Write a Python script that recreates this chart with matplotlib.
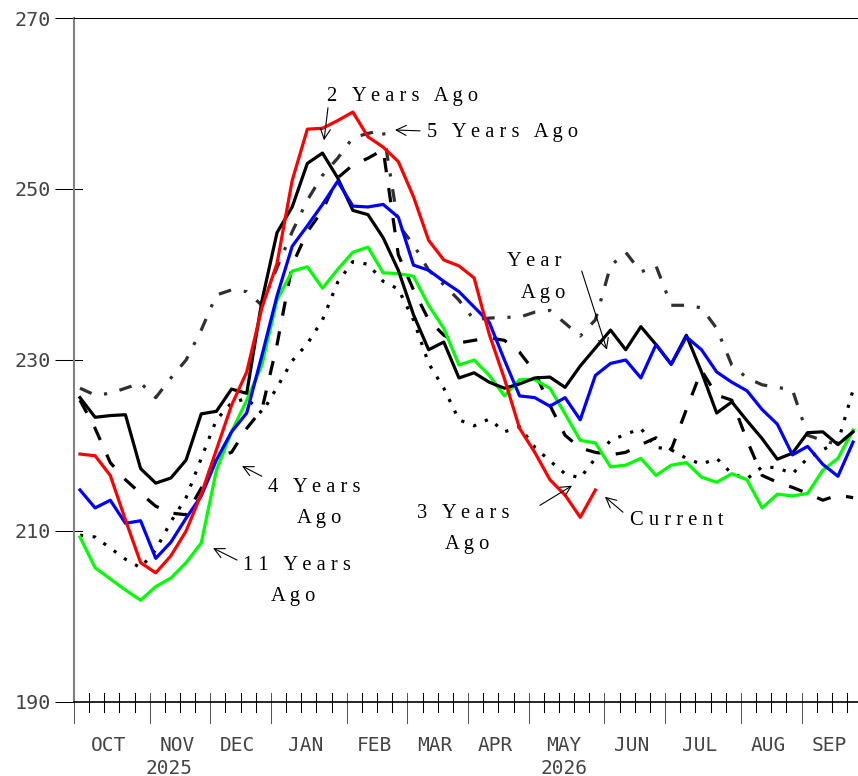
import numpy as np
import matplotlib
matplotlib.use('Agg')
import matplotlib.pyplot as plt

# month layout of the marketing year (weeks per month)
months = ['OCT', 'NOV', 'DEC', 'JAN', 'FEB', 'MAR', 'APR', 'MAY', 'JUN', 'JUL', 'AUG', 'SEP']
month_weeks = [5, 4, 4, 5, 4, 4, 4, 5, 4, 5, 4, 4]
years = ['2025', '2026']
year_pos = [6.3, 32.3]
yticks = [190, 210, 230, 250, 270]

# weekly values
current = [219.0, 218.8, 216.5, 211.3, 206.3, 205.1, 207.1, 210.0, 214.3, 219.5,
           224.7, 228.6, 236.1, 241.3, 251.0, 257.0, 257.1, 258.0, 259.0, 256.1,
           254.9, 253.2, 249.1, 244.0, 241.7, 241.0, 239.6, 233.0, 227.8, 222.0,
           219.2, 216.0, 214.2, 211.6, 214.8]
year_ago = [214.8, 212.7, 213.6, 210.9, 211.2, 206.8, 208.7, 211.5, 214.1, 218.3,
            221.6, 223.8, 230.5, 237.5, 243.3, 245.7, 248.2, 250.9, 248.0, 247.9,
            248.2, 246.7, 241.1, 240.5, 239.2, 238.0, 236.2, 234.4, 230.0, 225.8,
            225.6, 224.6, 225.6, 223.0, 228.2, 229.6, 230.0, 227.9, 231.8, 229.5,
            232.7, 231.2, 228.6, 227.4, 226.4, 224.2, 222.5, 218.9, 219.9, 217.8,
            216.4, 220.4]
two_years = [225.6, 223.3, 223.5, 223.6, 217.3, 215.6, 216.2, 218.3, 223.7, 224.0,
             226.6, 226.1, 236.9, 244.9, 247.9, 253.0, 254.2, 251.3, 247.5, 247.0,
             244.3, 240.5, 235.3, 231.2, 232.1, 227.9, 228.5, 227.4, 226.7, 227.2,
             227.9, 228.0, 226.8, 229.3, 231.4, 233.5, 231.2, 233.9, 231.8, 229.5,
             232.9, 228.6, 223.8, 225.1, 222.9, 220.8, 218.4, 219.1, 221.5, 221.6,
             220.1, 221.6]
three_years = [209.5, 209.3, 208.0, 206.7, 205.7, 207.8, 211.1, 213.9, 218.5, 223.0,
               225.0, 225.5, 223.8, 226.8, 229.9, 231.9, 234.7, 239.1, 241.5, 241.2,
               239.2, 238.3, 234.7, 229.6, 226.7, 223.0, 222.3, 223.1, 221.6, 222.2,
               219.8, 218.2, 216.7, 216.2, 218.5, 220.6, 221.3, 222.0, 219.8, 219.5,
               218.5, 217.8, 218.5, 216.7, 216.1, 217.5, 217.4, 216.7, 218.5, 219.5,
               220.4, 226.5]
four_years = [225.3, 222.0, 218.0, 216.0, 214.4, 212.9, 212.1, 211.9, 215.0, 218.7,
              219.2, 222.0, 224.2, 231.8, 241.1, 245.0, 247.5, 251.3, 252.8, 253.6,
              254.6, 242.3, 238.2, 234.7, 232.9, 232.0, 232.3, 232.6, 232.3, 230.9,
              228.6, 224.7, 221.2, 219.7, 219.2, 218.9, 219.2, 220.1, 220.9, 219.5,
              224.2, 228.8, 225.9, 225.3, 220.6, 216.5, 215.7, 215.1, 214.4, 213.6,
              214.2, 213.9]
five_years = [226.7, 225.9, 226.1, 226.7, 227.3, 225.6, 227.9, 230.0, 233.5, 237.6,
              238.2, 238.0, 236.4, 240.8, 245.0, 248.7, 251.6, 253.6, 256.0, 256.5,
              256.9, 245.8, 243.5, 240.5, 238.8, 237.0, 234.7, 234.9, 235.0, 235.0,
              235.6, 235.8, 234.3, 232.8, 234.7, 241.0, 242.6, 240.3, 241.0, 236.4,
              236.4, 236.1, 233.7, 229.4, 227.9, 227.1, 226.8, 226.5, 221.2, 220.6,
              220.1, 221.6]
eleven_years = [209.3, 205.7, 204.4, 203.1, 201.9, 203.5, 204.5, 206.3, 208.6, 217.1,
                221.6, 225.3, 229.4, 237.0, 240.4, 240.9, 238.4, 240.6, 242.6, 243.2,
                240.2, 240.1, 239.8, 236.4, 233.7, 229.4, 230.0, 228.2, 225.8, 227.7,
                227.7, 226.7, 223.7, 220.6, 220.3, 217.5, 217.7, 218.5, 216.5, 217.7,
                218.0, 216.3, 215.7, 216.7, 216.0, 212.7, 214.3, 214.1, 214.4, 217.1,
                218.5, 221.8]

n_weeks = sum(month_weeks)
wk = np.arange(52) + 0.4

fig = plt.figure(figsize=(8.58, 7.76), dpi=100)
ax = fig.add_axes([73.9 / 858, 74 / 776, 788.3 / 858, 684 / 776])
ax.set_xlim(0, n_weeks)
ax.set_ylim(190, 270)

lw = 2.3
ax.plot(wk[:len(three_years)], three_years, color='black', lw=lw, ls=(0, (1, 3)))
ax.plot(wk[:len(four_years)], four_years, color='black', lw=lw, ls=(0, (4.5, 5)))
ax.plot(wk[:len(five_years)], five_years, color='#303030', lw=lw, ls=(0, (4, 4, 1, 4)))
ax.plot(wk[:len(eleven_years)], eleven_years, color='#00ff00', lw=lw)
ax.plot(wk[:len(two_years)], two_years, color='black', lw=lw)
ax.plot(wk[:len(year_ago)], year_ago, color='#0000ff', lw=lw)
ax.plot(wk[:len(current)], current, color='#ff0000', lw=lw)

# axes frame
ax.spines['right'].set_visible(False)
ax.spines['left'].set_color('#808080')
ax.spines['left'].set_linewidth(1.5)
ax.spines['top'].set_linewidth(0.75)
ax.spines['bottom'].set_linewidth(1.2)

ax.set_yticks(yticks)
ax.set_yticklabels([str(v) for v in yticks])
ax.tick_params(axis='y', direction='out', length=13.7, width=0.75, pad=2.9,
               labelsize=14.5, labelcolor='#444444')
for lbl in ax.get_yticklabels():
    lbl.set_fontfamily('DejaVu Sans Mono')
ytr = ax.get_yaxis_transform()
for v in yticks[1:-1]:
    ax.plot([0, 8 / 788.3], [v, v], transform=ytr, color='black', lw=0.75)

# weekly ticks, longer at month boundaries
ax.set_xticks([])
xtr = ax.get_xaxis_transform()
bounds = np.concatenate([[0], np.cumsum(month_weeks)])
for w in range(n_weeks + 1):
    if w in bounds:
        ax.plot([w, w], [9 / 684, -21 / 684], transform=xtr, color='#555555',
                lw=0.75, clip_on=False)
    else:
        ax.plot([w, w], [9 / 684, -10 / 684], transform=xtr, color='black',
                lw=0.75, clip_on=False)

mids = (bounds[:-1] + bounds[1:]) / 2.0
for name, m in zip(months, mids):
    ax.text(m - 0.2, -0.0629, name, transform=xtr, ha='center', va='center',
            fontfamily='DejaVu Sans Mono', fontsize=14, color='#444444')
for yr, p in zip(years, year_pos):
    ax.text(p, -0.0965, yr, transform=xtr, ha='center', va='center',
            fontfamily='DejaVu Sans Mono', fontsize=14, color='#444444')


def spread(s):
    return ' '.join(s)


def label(x, y, s):
    ax.text(x, y, spread(s), ha='left', va='center', fontfamily='Liberation Serif',
            fontsize=14.8, color='black')


def arrow(tail, head):
    ax.annotate('', xy=head, xytext=tail,
                arrowprops=dict(arrowstyle='->', lw=0.8, color='black',
                                shrinkA=0, shrinkB=0, mutation_scale=18))


label(16.7, 260.8, '2 Years Ago')
arrow((16.76, 259.5), (16.5, 255.7))
label(23.3, 256.6, '5 Years Ago')
arrow((22.83, 256.8), (21.18, 256.9))
label(28.57, 241.5, 'Year')
label(29.5, 237.8, 'Ago')
arrow((33.5, 240.4), (35.16, 231.2))
label(12.8, 215.1, '4 Years')
label(14.7, 211.5, 'Ago')
arrow((12.4, 216.4), (11.09, 217.6))
label(11.15, 206.0, '11 Years')
label(13.0, 202.3, 'Ago')
arrow((10.76, 206.6), (9.18, 208.0))
label(22.63, 212.1, '3 Years')
label(24.48, 208.4, 'Ago')
arrow((30.74, 213.0), (32.86, 215.3))
label(36.68, 211.2, 'Current')
arrow((36.22, 212.2), (35.03, 214.0))

fig.savefig('out.png', dpi=100)
